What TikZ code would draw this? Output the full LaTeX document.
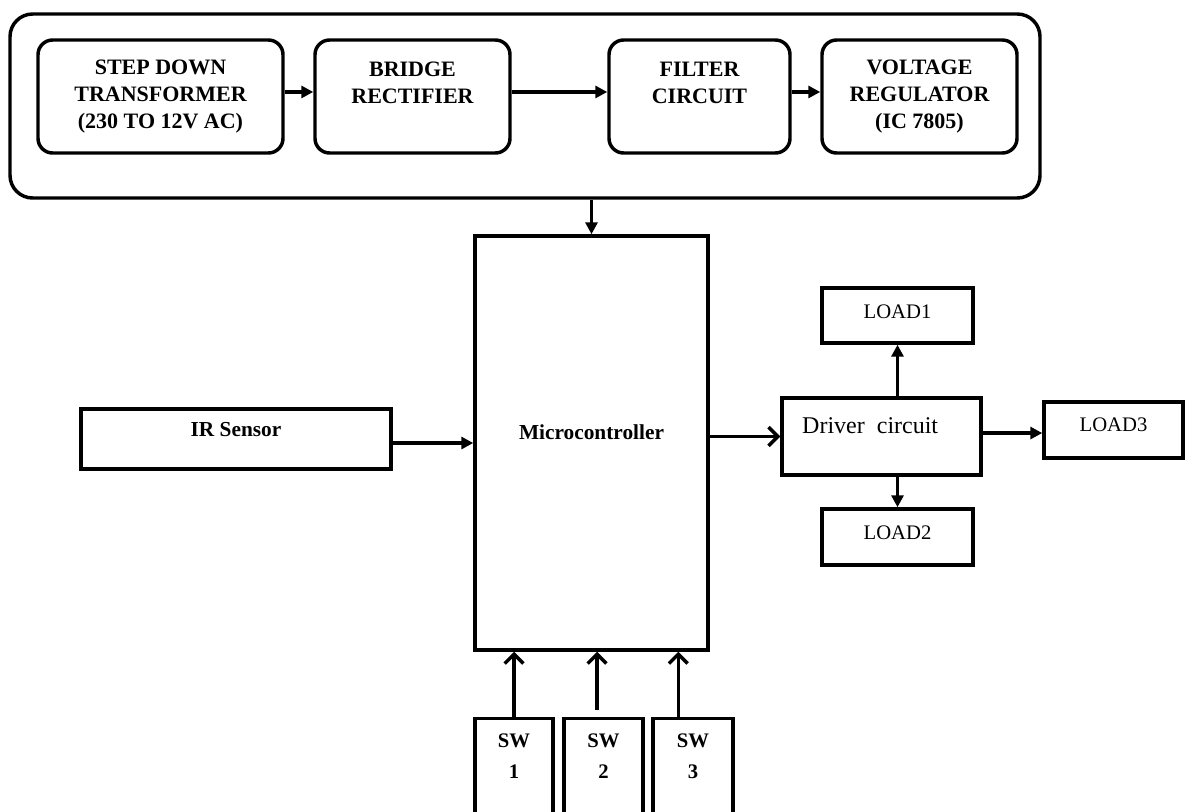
\documentclass[tikz,border=0pt]{standalone}
\usepackage{fontspec}
\setmainfont{Liberation Serif}
\usetikzlibrary{arrows.meta}
\tikzset{
  block/.style={draw,line width=2.6pt,align=center,inner sep=3pt},
  stage/.style={block,rounded corners=11pt,minimum height=84.75pt,
    font=\bfseries\fontsize{16.5}{20.25}\selectfont},
  plain/.style={block,font=\fontsize{15.5}{18}\selectfont,text height=10pt},
  bold/.style={block,font=\bfseries\fontsize{16}{18}\selectfont,text height=10pt},
  switch/.style={block,anchor=north,minimum height=102.75pt,
    font=\bfseries\fontsize{15.5}{23.25}\selectfont},
  arr/.style={line width=2.6pt,-{Triangle[length=9pt,width=9pt]}},
  barb/.style={line width=2.6pt,-{Straight Barb[length=7pt,width=14pt]}}
}
\begin{document}
\begin{tikzpicture}[x=0.75pt,y=-0.75pt]
    \useasboundingbox (0,0) rectangle (1188,811);
    % power supply
    \node[block,rounded corners=17pt,minimum width=772.5pt,minimum height=138pt] (psu) at (525,106) {};
    \node[stage,minimum width=183.75pt] (trafo) at (160.5,96.5) {STEP DOWN\\TRANSFORMER\\(230 TO 12V AC)};
    \node[stage,minimum width=146.25pt] (rect) at (412.5,96.5) {BRIDGE\\RECTIFIER\\\mbox{}};
    \node[stage,minimum width=135.75pt] (filt) at (699.5,96.5) {FILTER\\CIRCUIT\\\mbox{}};
    \node[stage,minimum width=146.25pt] (reg) at (919.5,96.5) {VOLTAGE\\REGULATOR\\(IC 7805)};
    \foreach \a/\b in {trafo/rect,rect/filt,filt/reg}
        \draw[arr] ([yshift=3.4pt]\a.east) -- ([yshift=3.4pt]\b.west);
    % controller and sensor
    \node[bold,text depth=15pt,minimum width=174.75pt,minimum height=310.5pt] (mcu) at (591.5,443) {Microcontroller};
    \node[bold,text depth=13.5pt,minimum width=232.5pt,minimum height=45pt] (ir) at (236,439) {IR Sensor};
    \draw[arr] (mcu.north |- psu.south) -- (mcu.north);
    \draw[arr] ([yshift=-3pt]ir.east) -- ([yshift=-3pt]ir.east -| mcu.west);
    % driver and loads
    \node[block,font=\fontsize{18}{22}\selectfont,text height=12pt,text depth=17.25pt,
        minimum width=149.25pt,minimum height=57.75pt] (drv) at (881.5,436.5) {Driver\ \ circuit\hspace*{17pt}};
    \node[plain,text depth=6pt,minimum width=113.25pt,minimum height=41.25pt] (load1) at (897.5,315.5) {LOAD1};
    \node[plain,text depth=6pt,minimum width=113.25pt,minimum height=42pt] (load2) at (897.5,537) {LOAD2};
    \node[plain,text depth=7.5pt,minimum width=104.25pt,minimum height=42pt] (load3) at (1113.5,430) {LOAD3};
    \draw[barb] (mcu.east |- drv.west) -- (drv.west);
    \draw[arr] (drv.north -| load1) -- (load1);
    \draw[arr] (drv.south -| load2) -- (load2);
    \draw[arr] ([yshift=2.6pt]drv.east) -- ([yshift=2.6pt]drv.east -| load3.west);
    % switches
    \node[switch,minimum width=58.5pt] (sw1) at (514,717) {SW\\1\\\mbox{}\\\mbox{}};
    \node[switch,minimum width=59.25pt] (sw2) at (603.5,717) {SW\\2\\\mbox{}\\\mbox{}};
    \node[switch,minimum width=60pt] (sw3) at (693,717) {SW\\3\\\mbox{}\\\mbox{}};
    \coordinate (sw2top) at ([shift={(-6.5,-7)}]sw2.north);
    \draw[barb] (sw1.north) -- (sw1.north |- mcu.south);
    \draw[barb] (sw2top) -- (sw2top |- mcu.south);
    \draw[barb] ([xshift=-11pt]sw3.north) -- ([xshift=-11pt]sw3.north |- mcu.south);
\end{tikzpicture}
\end{document}
